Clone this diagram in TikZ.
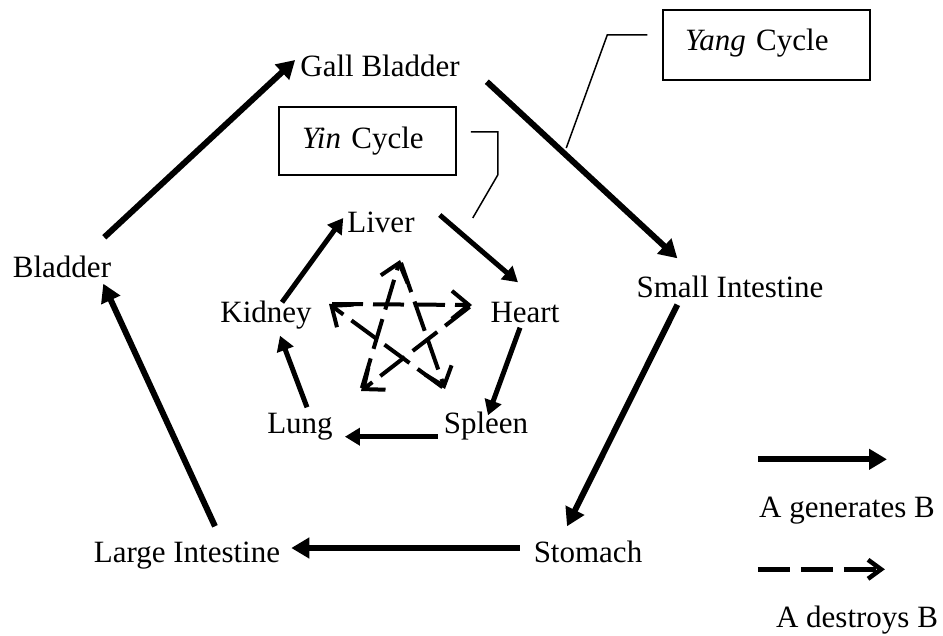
\documentclass[tikz,border=0pt]{standalone}
\usepackage{fontspec}
\setmainfont{Liberation Serif}
\usetikzlibrary{arrows.meta,calc}

\begin{document}
\begin{tikzpicture}[
    x=1pt, y=-1pt,
    font=\fontsize{31}{36}\selectfont,
    organ/.style={inner sep=3pt, text height=21pt, text depth=0pt},
    cyclebox/.style={rectangle, draw, line width=1.5pt, align=left},
    gen/.style={line width=6pt, -{Triangle[length=18pt,width=20pt]}},
    gensmall/.style={line width=5pt, -{Triangle[length=15pt,width=17pt]}},
    destroy/.style={line width=4pt, dash pattern=on 31pt off 10pt, shorten <=3pt,
        -{Straight Barb[length=17pt,width=28pt]}},
    destroylegend/.style={line width=4.5pt, dash pattern=on 32pt off 11pt,
        -{Straight Barb[length=13pt,width=19pt]}},
    leader/.style={line width=1.5pt}
]
    \useasboundingbox (0,0) rectangle (943,636);

    % outer (Yang) cycle
    \node[organ] (gall) at (380,66) {Gall Bladder};
    \node[organ] (small) at (730,287) {Small Intestine};
    \node[organ] (stomach) at (588,552) {Stomach};
    \node[organ] (large) at (187,552) {Large Intestine};
    \node[organ] (bladder) at (62,267) {Bladder};

    % inner (Yin) cycle
    \node[organ] (liver) at (381,222) {Liver};
    \node[organ] (heart) at (525,312) {Heart};
    \node[organ] (spleen) at (486,423) {Spleen};
    \node[organ] (lung) at (300,423) {Lung};
    \node[organ] (kidney) at (266,312) {Kidney};

    \node[cyclebox, inner xsep=23pt, text width=131pt, text height=21pt, text depth=6pt,
        minimum height=68pt] (yin) at (367.5,141) {\textit{Yin} Cycle};
    \node[cyclebox, inner xsep=22pt, text width=163pt, text height=21pt, text depth=10pt,
        minimum height=70pt] (yang) at (766.5,45) {\textit{Yang} Cycle};

    \draw[gen] ($(bladder.north east)+(-10,-16)$) -- ($(gall.west)+(-2,-6)$);
    \draw[gen] ($(gall.south east)+(24,2)$) -- ($(small.north west)+(44,-15)$);
    \draw[gen] ($(small.south west)+(44,4)$) -- ($(stomach.north)+(-21,-12)$);
    \draw[gen] ($(stomach.west)+(-11,-4)$) -- ($(large.east)+(8,-4)$);
    \draw[gen] ($(large.north)+(28,-12)$) -- ($(bladder.south east)+(-11,3)$);

    \draw[gensmall] ($(kidney.north)+(16,4)$) -- ($(liver.west)+(-1,-4)$);
    \draw[gensmall] ($(liver.east)+(22,-7)$) -- ($(heart.north)+(-7,-16)$);
    \draw[gensmall] ($(heart.south)+(-5,2)$) -- ($(spleen.north)+(2,6)$);
    \draw[gensmall] ($(spleen.south west)+(-3,0)$) -- ($(lung.south east)+(9,0)$);
    \draw[gensmall] ($(lung.north)+(7,-2)$) -- ($(kidney.south)+(14,10)$);

    % star of the destroying cycle
    \coordinate (tipLiver) at (400,260);
    \coordinate (tipHeart) at (472,305);
    \coordinate (tipSpleen) at (445,389);
    \coordinate (tipLung) at (361,391);
    \coordinate (tipKidney) at (329,304);
    \draw[destroy] (tipLung) -- (tipLiver);
    \draw[destroy] (tipLiver) -- (tipSpleen);
    \draw[destroy] (tipSpleen) -- (tipKidney);
    \draw[destroy] (tipKidney) -- (tipHeart);
    \draw[destroy] (tipHeart) -- (tipLung);

    \draw[leader] ($(yin.east)+(14,-9)$) -- ++(27,0) -- ++(0,43) -- ++(-25,43);
    \draw[leader] ($(yang.west)+(-15,-10)$) -- ++(-40,0) -- ++(-41,113);

    % legend
    \node[organ] (genlabel) at (847,507) {A generates B};
    \node[organ] (deslabel) at (857,617) {A destroys B};
    \draw[gen] ($(genlabel.north west)+(2,-34)$) -- ++(129,0);
    \draw[destroylegend] ($(deslabel.north west)+(-15,-34)$) -- ++(127,0);
\end{tikzpicture}
\end{document}
